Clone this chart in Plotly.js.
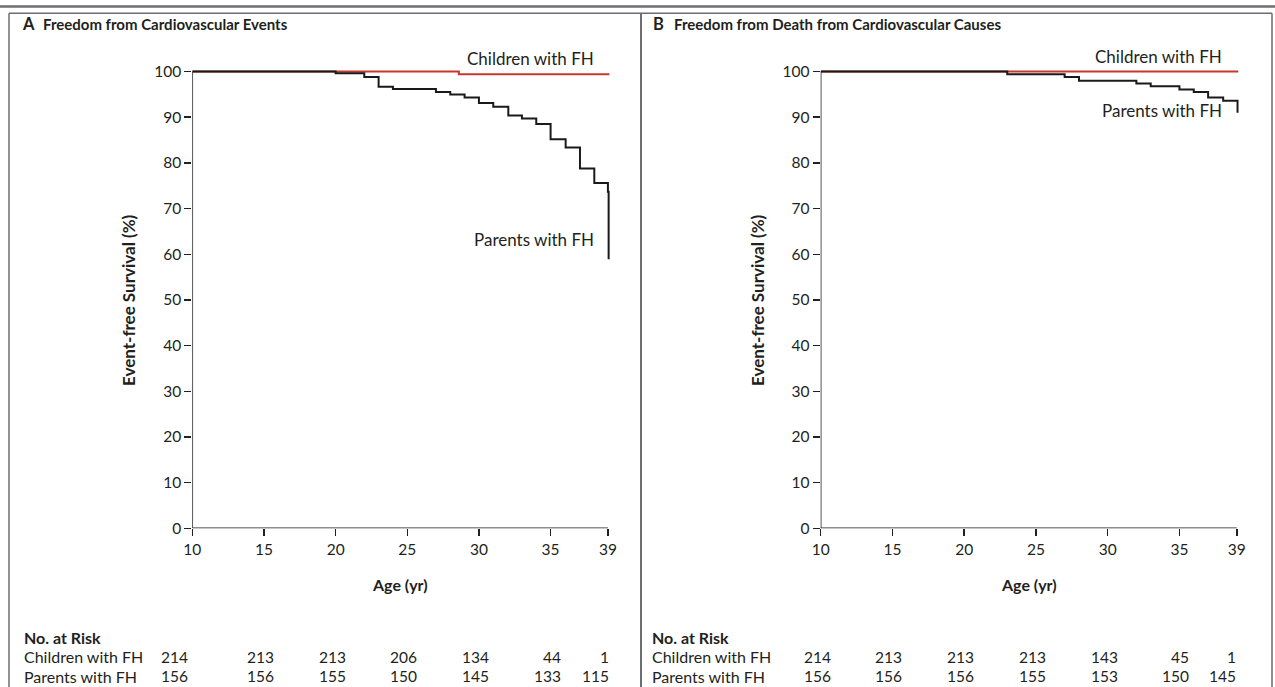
<!DOCTYPE html>
<html>
<head>
<meta charset="utf-8">
<script src="https://cdn.plot.ly/plotly-3.0.1.min.js"></script>
<style>
html,body{margin:0;padding:0;background:#fff;}
#chart{width:1275px;height:687px;}
</style>
</head>
<body>
<div id="chart"></div>
<script>
// ---- Data ----
var ageTicks = [10, 15, 20, 25, 30, 35, 39];
var yTicks = [0, 10, 20, 30, 40, 50, 60, 70, 80, 90, 100];

// Panel A: Freedom from Cardiovascular Events
var A_parentsAge = [10, 20.0, 22.0, 23.0, 24.0, 27.0, 28.0, 29.0, 30.0, 31.0, 32.05, 33.0, 34.0, 35.0, 36.05, 37.05, 38.05, 39.0, 39.05];
var A_parentsSurv = [100, 99.65, 98.8, 96.7, 96.2, 95.5, 95.0, 94.3, 93.1, 92.3, 90.4, 89.7, 88.5, 85.2, 83.4, 78.8, 75.6, 73.7, 58.9];
var A_childrenAge = [10, 28.6, 39.1];
var A_childrenSurv = [100, 99.4, 99.4];

// Panel B: Freedom from Death from Cardiovascular Causes
var B_parentsAge = [10, 23.0, 27.0, 28.0, 32.0, 33.0, 35.0, 36.0, 37.0, 38.05, 39.05];
var B_parentsSurv = [100, 99.4, 98.8, 98.0, 97.4, 96.8, 96.1, 95.5, 94.3, 93.6, 91.0];
var B_childrenAge = [10, 39.1];
var B_childrenSurv = [100, 100];

// Numbers at risk
var riskAges = [10, 15, 20, 25, 30, 35, 39];
var A_riskChildren = [214, 213, 213, 206, 134, 44, 1];
var A_riskParents = [156, 156, 155, 150, 145, 133, 115];
var B_riskChildren = [214, 213, 213, 213, 143, 45, 1];
var B_riskParents = [156, 156, 156, 155, 153, 150, 145];

// ---- Style ----
var W = 1275, H = 687;
var FONT = 'Lato, "Open Sans", sans-serif';
var TXT = '#231f20';
var RED = '#c8372d';
function px(x){ return x / W; }
function py(y){ return 1 - y / H; }

var traces = [
  {x: A_childrenAge, y: A_childrenSurv, xaxis:'x', yaxis:'y', mode:'lines', line:{shape:'hv', color:RED, width:2}},
  {x: A_parentsAge, y: A_parentsSurv, xaxis:'x', yaxis:'y', mode:'lines', line:{shape:'hv', color:'#1a1a1a', width:2}},
  {x: B_childrenAge, y: B_childrenSurv, xaxis:'x2', yaxis:'y2', mode:'lines', line:{shape:'hv', color:RED, width:2}},
  {x: B_parentsAge, y: B_parentsSurv, xaxis:'x2', yaxis:'y2', mode:'lines', line:{shape:'hv', color:'#1a1a1a', width:2}}
];

function xax(domain, anchor){
  return {domain: domain, anchor: anchor, range:[10, 39.25], showline:false, showgrid:false, zeroline:false,
    ticks:'outside', ticklen:7, tickwidth:1.5, tickcolor:TXT, tickvals: ageTicks, ticktext: ageTicks.map(String),
    tickfont:{family:FONT, size:15.5, color:TXT}, fixedrange:true};
}
function yax(anchor){
  return {domain:[0.23100, 0.90247], anchor: anchor, range:[0, 101], showline:false, showgrid:false, zeroline:false,
    ticks:'outside', ticklen:7, tickwidth:1.5, tickcolor:TXT, tickvals: yTicks, ticktext: yTicks.map(String),
    tickfont:{family:FONT, size:15.5, color:TXT}, fixedrange:true};
}

var annotations = [];
function ann(text, x, y, xanchor, size, opts){
  var a = {text:text, x:px(x), y:py(y), xref:'paper', yref:'paper', xanchor:xanchor, yanchor:'middle',
    showarrow:false, font:{family:FONT, size:size, color:TXT}};
  if (opts) for (var k in opts) a[k] = opts[k];
  annotations.push(a);
}

// Panel titles
ann('<b>A</b>', 20, 24, 'left', 16.5);
ann('<b>Freedom from Cardiovascular Events</b>', 41, 24, 'left', 15);
ann('<b>B</b>', 651, 24, 'left', 16.5);
ann('<b>Freedom from Death from Cardiovascular Causes</b>', 672, 24, 'left', 15);

// Axis titles
ann('<b>Event-free Survival (%)</b>', 128, 300, 'center', 17, {textangle:-90});
ann('<b>Event-free Survival (%)</b>', 757, 300, 'center', 17, {textangle:-90});
ann('<b>Age (yr)</b>', 400, 584, 'center', 16);
ann('<b>Age (yr)</b>', 1029, 584, 'center', 16);

// Curve labels
ann('Children with FH', 596, 58, 'right', 17);
ann('Parents with FH', 596, 239, 'right', 17);
ann('Children with FH', 1224, 57, 'right', 17);
ann('Parents with FH', 1224, 110, 'right', 17);

// Risk tables
var rowY = [637, 656.5, 676];
function riskTable(x0, xa, children, parents, shifts){
  ann('<b>No. at Risk</b>', x0, rowY[0], 'left', 16);
  ann('Children with FH', x0, rowY[1], 'left', 16);
  ann('Parents with FH', x0, rowY[2], 'left', 16);
  for (var i = 0; i < riskAges.length; i++){
    [children, parents].forEach(function(arr, r){
      annotations.push({text:String(arr[i]), x:riskAges[i], xref:xa, y:py(rowY[r + 1]), yref:'paper',
        xanchor:'right', yanchor:'middle', xshift:shifts[i], showarrow:false,
        font:{family:FONT, size:15.5, color:TXT}});
    });
  }
}
riskTable(22, 'x', A_riskChildren, A_riskParents, [-2, 12, 12, 12, 12, 12, 3]);
riskTable(650, 'x2', B_riskChildren, B_riskParents, [12, 12, 12, 12, 12, 12, 1]);

var BORDER = '#6d6e71';
var shapes = [
  // top rule
  {type:'line', xref:'paper', yref:'paper', x0:0, x1:1, y0:py(6.5), y1:py(6.5), line:{color:BORDER, width:2.5}},
  // frame
  {type:'line', xref:'paper', yref:'paper', x0:px(9), x1:px(1272), y0:py(13.3), y1:py(13.3), line:{color:BORDER, width:1.5}},
  {type:'line', xref:'paper', yref:'paper', x0:px(9), x1:px(9), y0:py(13.3), y1:0, line:{color:BORDER, width:1.5}},
  {type:'line', xref:'paper', yref:'paper', x0:px(641), x1:px(641), y0:py(13.3), y1:0, line:{color:BORDER, width:2}},
  {type:'line', xref:'paper', yref:'paper', x0:px(1272), x1:px(1272), y0:py(13.3), y1:0, line:{color:BORDER, width:1.5}},
  // axis lines
  {type:'line', xref:'x', yref:'y', x0:10, x1:39, y0:0, y1:0, line:{color:TXT, width:1.5}},
  {type:'line', xref:'x', yref:'y', x0:10, x1:10, y0:0, y1:100, line:{color:TXT, width:1.5}},
  {type:'line', xref:'x2', yref:'y2', x0:10, x1:39, y0:0, y1:0, line:{color:TXT, width:1.5}},
  {type:'line', xref:'x2', yref:'y2', x0:10, x1:10, y0:0, y1:100, line:{color:TXT, width:1.5}}
];

var layout = {
  width: W, height: H,
  margin:{l:0, r:0, t:0, b:0},
  paper_bgcolor:'#ffffff', plot_bgcolor:'rgba(0,0,0,0)',
  showlegend:false,
  xaxis: xax([192.3/W, 611.5/W], 'y'),
  yaxis: yax('x'),
  xaxis2: xax([820.7/W, 1240.4/W], 'y2'),
  yaxis2: yax('x2'),
  annotations: annotations,
  shapes: shapes
};

Plotly.newPlot('chart', traces, layout, {displayModeBar:false, staticPlot:true});
</script>
</body>
</html>
